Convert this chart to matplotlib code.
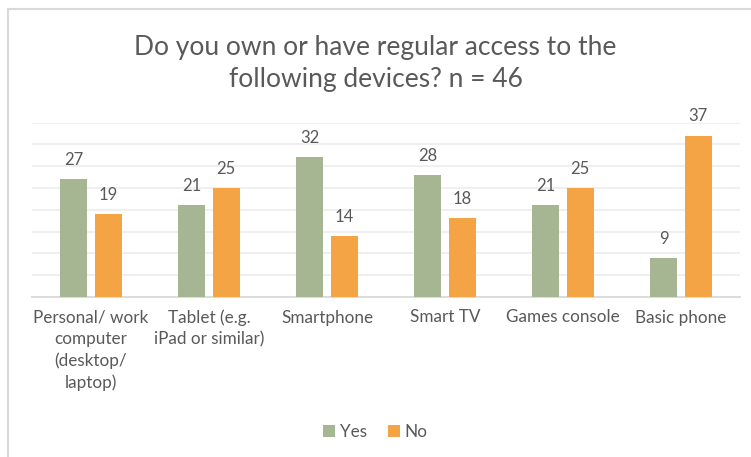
import numpy as np
import matplotlib.pyplot as plt
from matplotlib.lines import Line2D

plt.rcParams['font.family'] = ['Lato', 'DejaVu Sans']

devices = ['Personal/ work\ncomputer\n(desktop/\nlaptop)', 'Tablet (e.g.\niPad or similar)',
           'Smartphone', 'Smart TV', 'Games console', 'Basic phone']
yes = [27, 21, 32, 28, 21, 9]
no = [19, 25, 14, 18, 25, 37]

green = '#A6B592'
orange = '#F4A445'
text_grey = '#595959'

fig = plt.figure(figsize=(7.51, 4.57), dpi=100)
ax = fig.add_axes([32 / 751, 160 / 457, 708 / 751, 174.5 / 457])

x = np.arange(len(devices))
w = 0.23
gap = 0.06
b1 = ax.bar(x - (w + gap) / 2, yes, w, color=green, label='Yes', zorder=3)
b2 = ax.bar(x + (w + gap) / 2, no, w, color=orange, label='No', zorder=3)

# value labels above each bar
for bars, vals in [(b1, yes), (b2, no)]:
    for rect, v in zip(bars, vals):
        ax.annotate(str(v), (rect.get_x() + rect.get_width() / 2, v),
                    xytext=(0, 8), textcoords='offset points',
                    ha='center', va='bottom', fontsize=12, color=text_grey)

ax.set_xlim(-0.5, len(devices) - 0.5)
ax.set_ylim(0, 40)
ax.set_yticks(np.arange(0, 41, 5))
ax.yaxis.grid(True, color='#EEEEEE', linewidth=1.3, zorder=0)
ax.tick_params(axis='y', left=False, labelleft=False)
ax.set_xticks(x)
ax.set_xticklabels(devices, fontsize=12.3, color=text_grey, linespacing=1.4)
ax.tick_params(axis='x', length=0, pad=9)
for side in ['top', 'right', 'left']:
    ax.spines[side].set_visible(False)
ax.spines['bottom'].set_color('#D9D9D9')
ax.spines['bottom'].set_linewidth(1.3)

fig.text(0.5, 1 - 47 / 457, 'Do you own or have regular access to the', ha='center', va='center',
         fontsize=19, color=text_grey)
fig.text(0.5, 1 - 80 / 457, 'following devices? n = 46', ha='center', va='center',
         fontsize=19, color=text_grey)

fig.legend(loc='center', bbox_to_anchor=(0.5, 1 - 432 / 457), ncol=2, frameon=False,
           fontsize=12.3, labelcolor=text_grey, handlelength=0.7, handleheight=0.7,
           handletextpad=0.3, columnspacing=1.2)

# chart area border (top and left edges)
fig.add_artist(Line2D([8 / 751, 1], [1 - 8.5 / 457, 1 - 8.5 / 457], color='#D9D9D9', linewidth=1.5))
fig.add_artist(Line2D([8 / 751, 8 / 751], [0, 1 - 8.5 / 457], color='#D9D9D9', linewidth=1.5))

fig.savefig('out.png', dpi=100)
